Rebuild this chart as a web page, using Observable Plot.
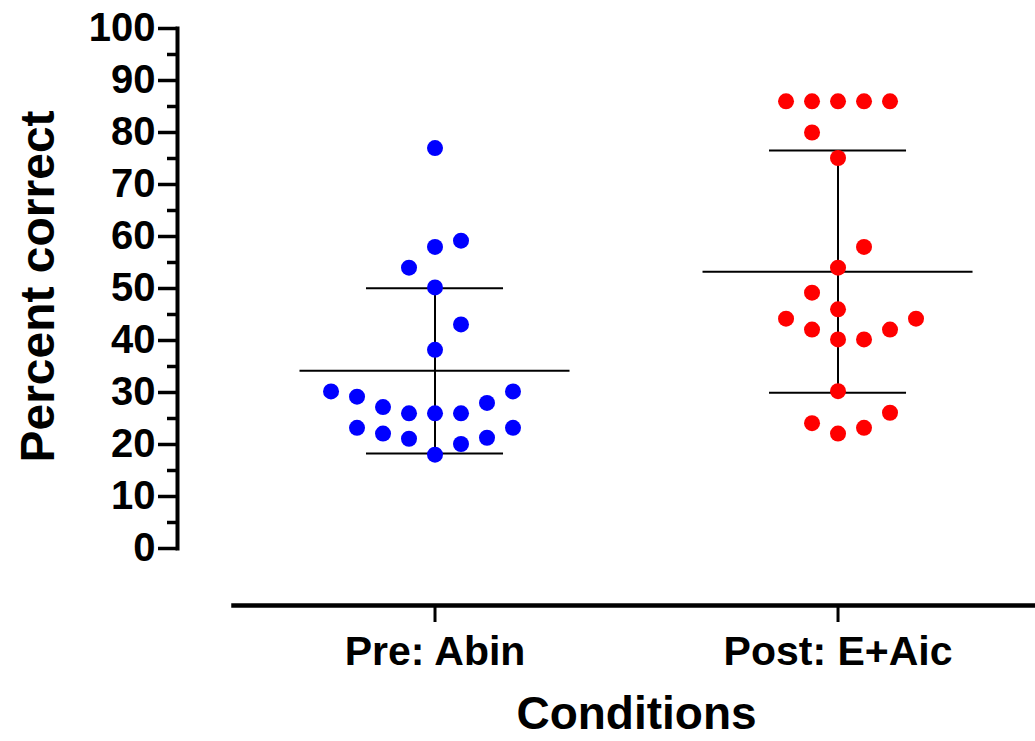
<!DOCTYPE html>
<html>
<head>
<meta charset="utf-8">
<script src="https://cdn.jsdelivr.net/npm/d3@7"></script>
<script src="https://cdn.jsdelivr.net/npm/@observablehq/plot@0.6"></script>
<style>
  html, body { margin: 0; padding: 0; background: #ffffff; }
  #chart { width: 1035px; height: 741px; }
</style>
</head>
<body>
<div id="chart"></div>
<script>
// ---- data ----
const categories = ["Pre: Abin", "Post: E+Aic"];
const colors = ["#0000ff", "#ff0000"];

// Pre: Abin values and their beeswarm column (slot) as placed in the picture
const preValues = [77.0, 58.0, 59.2, 54.0, 50.2, 43.1, 38.2,
  30.2, 29.2, 27.2, 26.0, 26.0, 26.0, 28.0, 30.2,
  23.2, 22.1, 21.1, 18.05, 20.1, 21.3, 23.2];
const preCols = [0, 0, 1, -1, 0, 1, 0,
  -4, -3, -2, -1, 0, 1, 2, 3,
  -3, -2, -1, 0, 1, 2, 3];

// Post: E+Aic values and columns
const postValues = [86, 86, 86, 86, 86, 80.0, 75.1, 58.0, 54.0, 49.2, 46.0,
  44.2, 42.1, 40.2, 40.2, 42.1, 44.2, 30.25, 24.1, 22.1, 23.2, 26.1];
const postCols = [-2, -1, 0, 1, 2, -1, 0, 1, 0, -1, 0,
  -2, -1, 0, 1, 2, 3, 0, -1, 0, 1, 2];

const yTicks = [0, 10, 20, 30, 40, 50, 60, 70, 80, 90, 100];
const yMinorTicks = [5, 15, 25, 35, 45, 55, 65, 75, 85, 95];

// ---- derived tables ----
const groups = [preValues, postValues];
const cols = [preCols, postCols];
const colStep = 0.0645;
const points = groups.flatMap((vals, g) =>
  vals.map((v, i) => ({g, name: categories[g], v, x: g + cols[g][i] * colStep})));
const stats = groups.map((vals, g) => {
  const mean = d3.mean(vals), sd = d3.deviation(vals);
  return {g, mean, lo: mean - sd, hi: mean + sd};
});
const meanHalf = 0.335, capHalf = 0.17;

const chart = Plot.plot({
  width: 1035,
  height: 741,
  marginLeft: 177,
  marginRight: 0,
  marginTop: 28,
  marginBottom: 193,
  style: {fontFamily: "'Liberation Sans', Arial, sans-serif", background: "#ffffff", color: "#000000"},
  x: {domain: [-0.5, 1.49], range: [233, 1035], axis: null},
  y: {domain: [0, 100], axis: null},
  color: {domain: categories, range: colors},
  marks: [
    // axis lines
    Plot.frame({anchor: "left", stroke: "#000", strokeWidth: 4}),
    Plot.frame({anchor: "bottom", dy: 57, insetLeft: 56, stroke: "#000", strokeWidth: 4.5}),
    // y axis
    Plot.axisY(yTicks, {tickSize: 19, strokeWidth: 3.5, tickPadding: 3, fontSize: 40, fontWeight: "bold", label: null}),
    Plot.axisY(yMinorTicks, {tickSize: 10, strokeWidth: 3.5, tickFormat: () => "", label: null}),
    // x axis
    Plot.axisX([0, 1], {tickFormat: i => categories[i], tickSize: 17, dy: 57, tickPadding: 13,
      strokeWidth: 3, fontSize: 41, fontWeight: "bold", label: null}),
    // mean and SD bars
    Plot.ruleX(stats, {x: "g", y1: "lo", y2: "hi", stroke: "#000", strokeWidth: 2}),
    Plot.ruleY(stats, {y: "mean", x1: d => d.g - meanHalf, x2: d => d.g + meanHalf, stroke: "#000", strokeWidth: 2}),
    Plot.ruleY(stats, {y: "hi", x1: d => d.g - capHalf, x2: d => d.g + capHalf, stroke: "#000", strokeWidth: 2}),
    Plot.ruleY(stats, {y: "lo", x1: d => d.g - capHalf, x2: d => d.g + capHalf, stroke: "#000", strokeWidth: 2}),
    // points
    Plot.dot(points, {x: "x", y: "v", r: 8, fill: "name", stroke: null}),
    // axis titles
    Plot.text(["Percent correct"], {frameAnchor: "left", rotate: -90, dx: -139, dy: -2,
      textAnchor: "middle", lineAnchor: "middle", fontSize: 48, fontWeight: "bold", fill: "#000"}),
    Plot.text(["Conditions"], {frameAnchor: "bottom", dx: 30, dy: 166,
      textAnchor: "middle", lineAnchor: "middle", fontSize: 46, fontWeight: "bold", fill: "#000"})
  ]
});
document.getElementById("chart").appendChild(chart);
</script>
</body>
</html>
